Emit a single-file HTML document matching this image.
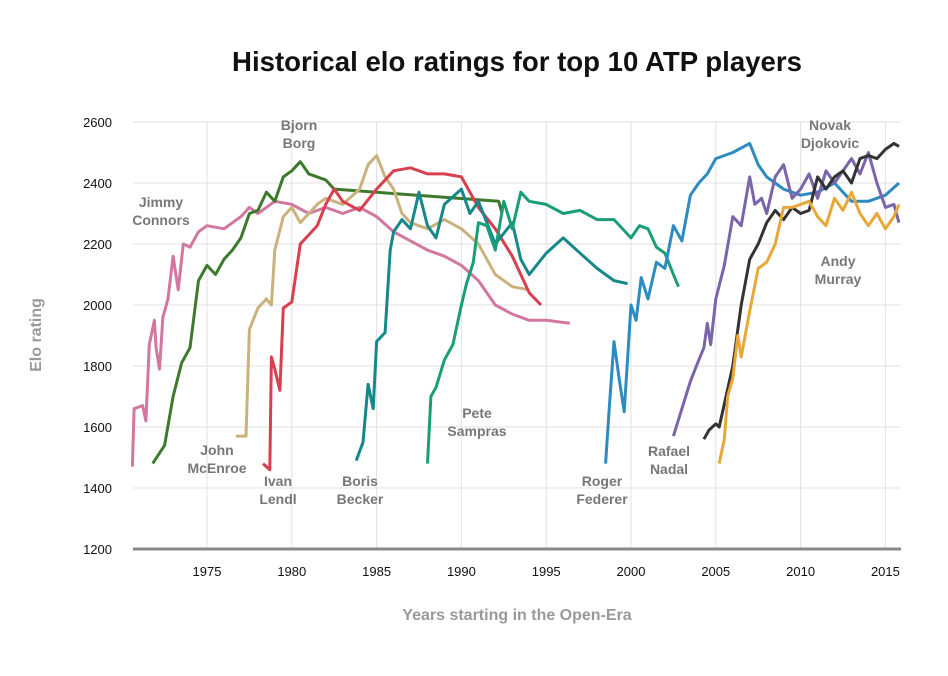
<!DOCTYPE html>
<html><head><meta charset="utf-8"><style>
body{margin:0;background:#fff;font-family:"Liberation Sans",sans-serif}
svg{display:block}
.tick{font-size:13px;fill:#111}
.lab{font-size:14px;font-weight:bold;fill:#777;text-anchor:middle}
</style></head><body>
<svg id="c" width="948" height="676">
<text x="517" y="71" text-anchor="middle" font-size="27.6" font-weight="bold" fill="#111">Historical elo ratings for top 10 ATP players</text>
<text x="517" y="620" text-anchor="middle" font-size="16" font-weight="bold" fill="#999">Years starting in the Open-Era</text>
<text transform="translate(41,335) rotate(-90)" text-anchor="middle" font-size="16" font-weight="bold" fill="#999">Elo rating</text>
<g id="grid"></g><g id="lines"></g><g id="labels"></g>
</svg>
<script>
const xTicks=[1975,1980,1985,1990,1995,2000,2005,2010,2015];
const yTicks=[1200,1400,1600,1800,2000,2200,2400,2600];
const players=["connors","borg","mcenroe","lendl","becker","sampras","federer","nadal","djokovic","murray"];
const colors=["#d2779f","#3d7a2c","#cbb27c","#d8404f","#16878a","#1a9e78","#2e8bc0","#7a64aa","#333333","#e8a838"];
const connors=[[1970.6,1470],[1970.7,1660],[1971.2,1670],[1971.4,1620],[1971.6,1870],[1971.9,1950],[1972.0,1860],[1972.2,1790],[1972.4,1960],[1972.7,2020],[1973.0,2160],[1973.3,2050],[1973.6,2200],[1974,2190],[1974.5,2240],[1975,2260],[1976,2250],[1977,2290],[1977.5,2320],[1978,2300],[1979,2340],[1980,2330],[1981,2300],[1982,2320],[1983,2300],[1984,2320],[1985,2290],[1986,2240],[1987,2210],[1988,2180],[1989,2160],[1990,2130],[1991,2080],[1992,2000],[1993,1970],[1994,1950],[1995,1950],[1996.4,1940]];
const borg=[[1971.8,1480],[1972.5,1540],[1973,1700],[1973.5,1810],[1974,1860],[1974.5,2080],[1975,2130],[1975.5,2100],[1976,2150],[1976.5,2180],[1977,2220],[1977.5,2300],[1978,2310],[1978.5,2370],[1979,2340],[1979.5,2420],[1980,2440],[1980.5,2470],[1981,2430],[1981.5,2420],[1982,2410],[1982.5,2380],[1992.2,2340],[1992.4,2300]];
const mcenroe=[[1976.7,1570],[1977.3,1570],[1977.5,1920],[1978,1990],[1978.5,2020],[1978.8,2000],[1979,2180],[1979.5,2290],[1980,2320],[1980.5,2270],[1981,2300],[1981.5,2330],[1982,2350],[1983,2330],[1984,2380],[1984.5,2460],[1985,2490],[1985.5,2420],[1986,2380],[1986.5,2300],[1987,2270],[1988,2250],[1989,2280],[1990,2250],[1991,2200],[1992,2100],[1993,2060],[1994,2050]];
const lendl=[[1978.3,1480],[1978.7,1460],[1978.8,1830],[1979,1790],[1979.3,1720],[1979.5,1990],[1980,2010],[1980.5,2200],[1981,2230],[1981.5,2260],[1982,2330],[1982.5,2380],[1983,2340],[1984,2310],[1985,2380],[1986,2440],[1987,2450],[1988,2430],[1989,2430],[1990,2420],[1991,2320],[1992,2250],[1993,2160],[1994,2040],[1994.7,2000]];
const becker=[[1983.8,1490],[1984.2,1550],[1984.5,1740],[1984.8,1660],[1985,1880],[1985.5,1910],[1985.8,2180],[1986,2240],[1986.5,2280],[1987,2250],[1987.5,2370],[1988,2260],[1988.5,2220],[1989,2330],[1990,2380],[1990.5,2300],[1991,2340],[1992,2200],[1993,2270],[1993.5,2150],[1994,2100],[1995,2170],[1996,2220],[1997,2170],[1998,2120],[1999,2080],[1999.8,2070]];
const sampras=[[1988,1480],[1988.2,1700],[1988.5,1730],[1989,1820],[1989.5,1870],[1990,2000],[1990.3,2070],[1990.7,2140],[1991,2270],[1991.5,2260],[1992,2180],[1992.5,2340],[1993,2250],[1993.5,2370],[1994,2340],[1995,2330],[1996,2300],[1997,2310],[1998,2280],[1999,2280],[2000,2220],[2000.5,2260],[2001,2250],[2001.5,2190],[2002,2170],[2002.5,2100],[2002.8,2060]];
const federer=[[1998.5,1480],[1998.7,1650],[1999,1880],[1999.3,1760],[1999.6,1650],[2000,2000],[2000.3,1950],[2000.6,2090],[2001,2020],[2001.5,2140],[2002,2120],[2002.5,2260],[2003,2210],[2003.5,2360],[2004,2400],[2004.5,2430],[2005,2480],[2006,2500],[2007,2530],[2007.5,2460],[2008,2420],[2009,2380],[2010,2360],[2011,2370],[2012,2400],[2013,2340],[2014,2340],[2015,2360],[2015.8,2400]];
const nadal=[[2002.5,1570],[2003,1660],[2003.5,1750],[2004,1820],[2004.3,1860],[2004.5,1940],[2004.7,1870],[2005,2020],[2005.5,2130],[2006,2290],[2006.5,2260],[2007,2420],[2007.3,2330],[2007.7,2350],[2008,2300],[2008.5,2420],[2009,2460],[2009.5,2350],[2010,2380],[2010.5,2430],[2011,2350],[2011.5,2440],[2012,2400],[2013,2480],[2013.5,2430],[2014,2500],[2014.5,2400],[2015,2320],[2015.5,2330],[2015.8,2270]];
const djokovic=[[2004.3,1560],[2004.6,1590],[2005,1610],[2005.2,1600],[2006,1800],[2006.5,2000],[2007,2150],[2007.5,2200],[2008,2270],[2008.5,2310],[2009,2280],[2009.5,2320],[2010,2300],[2010.5,2310],[2011,2420],[2011.5,2380],[2012,2420],[2012.5,2440],[2013,2400],[2013.5,2480],[2014,2490],[2014.5,2480],[2015,2510],[2015.5,2530],[2015.8,2520]];
const murray=[[2005.2,1480],[2005.5,1560],[2005.7,1700],[2006,1760],[2006.3,1900],[2006.5,1830],[2007,1980],[2007.5,2120],[2008,2140],[2008.5,2200],[2009,2320],[2009.5,2320],[2010,2330],[2010.5,2340],[2011,2290],[2011.5,2260],[2012,2350],[2012.5,2310],[2013,2370],[2013.5,2300],[2014,2260],[2014.5,2300],[2015,2250],[2015.5,2290],[2015.8,2330]];
const series=[connors,borg,mcenroe,lendl,becker,sampras,federer,nadal,djokovic,murray];
const labels=[["Jimmy","Connors",161,202],["Bjorn","Borg",299,125],["John","McEnroe",217,450],["Ivan","Lendl",278,481],["Boris","Becker",360,481],["Pete","Sampras",477,413],["Roger","Federer",602,481],["Rafael","Nadal",669,451],["Novak","Djokovic",830,125],["Andy","Murray",838,261]];
const X0=133,X1=901,Y0=549;
const x=y=>207+(y-1975)*16.96;
const yy=v=>549-(v-1200)*0.305;
const NS="http://www.w3.org/2000/svg";
function mk(t,a,p){const e=document.createElementNS(NS,t);for(const k in a)e.setAttribute(k,a[k]);p.appendChild(e);return e;}
const grid=document.getElementById('grid');
xTicks.forEach(t=>{
 const l=mk('line',{x1:x(t),x2:x(t),y1:122,y2:Y0,stroke:'#e2e2e2'},grid);
 
 
 const tx=mk('text',{x:x(t),y:576,'text-anchor':'middle',class:'tick'},grid);tx.textContent=t;
 
 
});
yTicks.forEach(t=>{
 if(t>1200){const l=mk('line',{x1:X0,x2:X1,y1:yy(t),y2:yy(t),stroke:'#e2e2e2'},grid);
 
 }
 const tx=mk('text',{x:112,y:yy(t)+5,'text-anchor':'end',class:'tick'},grid);tx.textContent=t;
 
 
});
const base=mk('line',{x1:X0,x2:X1,y1:Y0,y2:Y0,stroke:'#888','stroke-width':3},grid);


const lg=document.getElementById('lines');
series.forEach((s,i)=>{
 const p=mk('polyline',{points:s.map(d=>x(d[0]).toFixed(1)+','+yy(d[1]).toFixed(1)).join(' '),fill:'none',stroke:colors[i],'stroke-width':3,'stroke-linejoin':'round'},lg);
 
 
});
const lb=document.getElementById('labels');
labels.forEach((L,i)=>{
 const t=mk('text',{x:L[2],y:L[3]+5,class:'lab'},lb);
 
 
 const a=mk('tspan',{x:L[2],dy:0},t);a.textContent=L[0];
 const b=mk('tspan',{x:L[2],dy:18},t);b.textContent=L[1];
});
</script>
</body></html>
